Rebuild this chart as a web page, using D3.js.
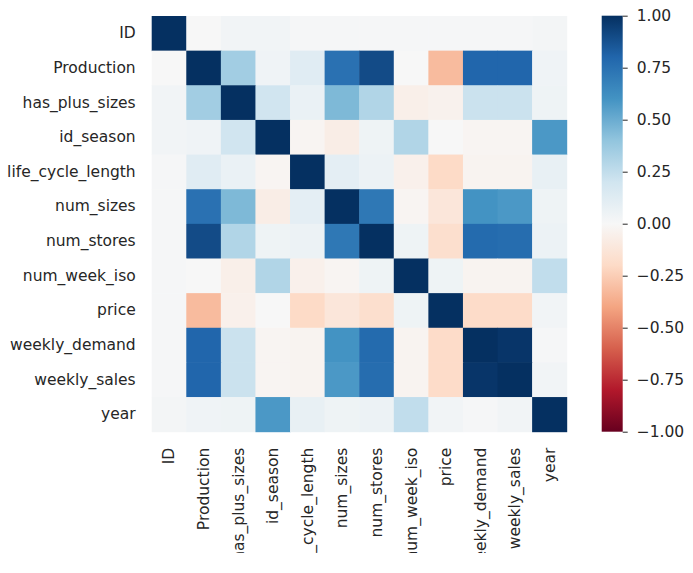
<!DOCTYPE html>
<html>
<head>
<meta charset="utf-8">
<script src="https://cdn.jsdelivr.net/npm/d3@7"></script>
<style>
	body { margin: 0; background: #fff; }
	svg text { font-family: "DejaVu Sans", sans-serif; fill: #262626; }
</style>
</head>
<body>
<svg id="heat" width="693" height="573"></svg>
<script>
var labels = ["ID", "Production", "has_plus_sizes", "id_season", "life_cycle_length", "num_sizes",
	"num_stores", "num_week_iso", "price", "weekly_demand", "weekly_sales", "year"];

// correlation matrix, rows in the same order as labels
var corr = [
	[1.00, 0.00, 0.03, 0.03, 0.01, 0.01, 0.01, 0.01, 0.01, 0.01, 0.01, 0.02],
	[0.00, 1.00, 0.35, 0.04, 0.12, 0.75, 0.90, 0.00, -0.32, 0.80, 0.80, 0.04],
	[0.03, 0.35, 1.00, 0.20, 0.07, 0.45, 0.30, -0.06, -0.04, 0.22, 0.22, 0.05],
	[0.03, 0.04, 0.20, 1.00, -0.02, -0.07, 0.05, 0.30, 0.00, -0.02, -0.02, 0.58],
	[0.01, 0.12, 0.07, -0.02, 1.00, 0.10, 0.06, -0.05, -0.20, -0.03, -0.03, 0.08],
	[0.01, 0.75, 0.45, -0.07, 0.10, 1.00, 0.72, -0.02, -0.12, 0.60, 0.58, 0.05],
	[0.01, 0.90, 0.30, 0.05, 0.06, 0.72, 1.00, 0.05, -0.17, 0.78, 0.77, 0.06],
	[0.01, 0.00, -0.06, 0.30, -0.05, -0.02, 0.05, 1.00, 0.05, -0.03, -0.03, 0.25],
	[0.01, -0.32, -0.05, 0.00, -0.20, -0.12, -0.17, 0.05, 1.00, -0.19, -0.19, 0.03],
	[0.01, 0.80, 0.22, -0.02, -0.03, 0.60, 0.78, -0.03, -0.19, 1.00, 0.98, 0.01],
	[0.01, 0.80, 0.22, -0.02, -0.03, 0.58, 0.77, -0.03, -0.19, 0.98, 1.00, 0.03],
	[0.02, 0.04, 0.05, 0.58, 0.08, 0.05, 0.06, 0.25, 0.03, 0.01, 0.03, 1.00]
];

var cbarTicks = [1.00, 0.75, 0.50, 0.25, 0.00, -0.25, -0.50, -0.75, -1.00];

// RdBu steps, linearly interpolated like matplotlib does
var rdbu = ["#67001f", "#b2182b", "#d6604d", "#f4a582", "#fddbc7", "#f7f7f7",
	"#d1e5f0", "#92c5de", "#4393c3", "#2166ac", "#053061"];

buildHeatmap();

function buildHeatmap() {
	var svg = d3.select("#heat");

	var x = d3.scaleBand().domain(labels).range([151.7, 566.7]);
	var y = d3.scaleBand().domain(labels).range([16, 431.7]);

	var color = d3.scaleLinear()
		.domain(d3.range(rdbu.length).map(function(i) { return -1 + 2 * i / (rdbu.length - 1); }))
		.range(rdbu)
		.interpolate(d3.interpolateRgb);

	// the original picture is cut at the bottom
	svg.append("clipPath").attr("id", "clip")
		.append("rect").attr("x", 0).attr("y", 0).attr("width", 693).attr("height", 553);

	var root = svg.append("g").attr("clip-path", "url(#clip)");

	var cells = [];
	corr.forEach(function(row, i) {
		row.forEach(function(v, j) {
			cells.push({ r: labels[i], c: labels[j], v: v });
		});
	});

	root.append("g")
		.selectAll("rect")
		.data(cells)
		.enter().append("rect")
			.attr("x", function(d) { return x(d.c); })
			.attr("y", function(d) { return y(d.r); })
			.attr("width", x.bandwidth() + 0.5)
			.attr("height", y.bandwidth() + 0.5)
			.attr("fill", function(d) { return color(d.v); });

	var yAxis = root.append("g")
		.attr("transform", "translate(151.7,0)")
		.call(d3.axisLeft(y).tickSize(0).tickPadding(16));
	yAxis.select(".domain").remove();
	yAxis.selectAll("text").style("font-size", "15.5px");

	var xAxis = root.append("g")
		.attr("transform", "translate(0,431.7)")
		.call(d3.axisBottom(x).tickSize(0));
	xAxis.select(".domain").remove();
	xAxis.selectAll("text")
		.style("font-size", "15.5px")
		.attr("text-anchor", "end")
		.attr("dy", "0.35em")
		.attr("x", 0)
		.attr("y", 0)
		.attr("transform", "translate(0,16) rotate(-90)");

	// colorbar
	var cb = d3.scaleLinear().domain([-1, 1]).range([431.7, 15.7]);
	var grad = svg.append("defs").append("linearGradient")
		.attr("id", "cbgrad")
		.attr("x1", 0).attr("y1", 1).attr("x2", 0).attr("y2", 0);
	rdbu.forEach(function(c, i) {
		grad.append("stop")
			.attr("offset", i / (rdbu.length - 1))
			.attr("stop-color", c);
	});

	svg.append("rect")
		.attr("x", 601.7)
		.attr("y", cb.range()[1])
		.attr("width", 21)
		.attr("height", cb.range()[0] - cb.range()[1])
		.attr("fill", "url(#cbgrad)");

	var cAxis = svg.append("g")
		.attr("transform", "translate(622.7,0)")
		.call(d3.axisRight(cb).tickValues(cbarTicks).tickSize(5).tickPadding(9)
			.tickFormat(function(d) { return d3.format(".2f")(d).replace("-", "\u2212"); }));
	cAxis.select(".domain").remove();
	cAxis.selectAll("line").attr("stroke", "#262626").attr("stroke-width", 1);
	cAxis.selectAll("text").style("font-size", "15.5px");
}
</script>
</body>
</html>
